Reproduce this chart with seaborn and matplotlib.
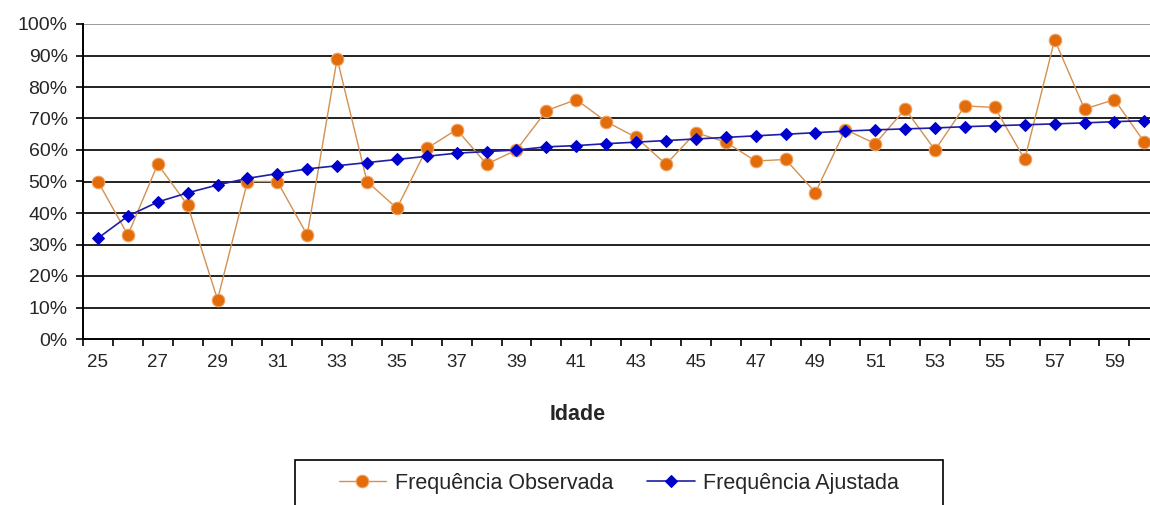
import numpy as np
import pandas as pd
import matplotlib
matplotlib.use('Agg')
import matplotlib.pyplot as plt
import seaborn as sns
from matplotlib.patches import Rectangle
from matplotlib.ticker import PercentFormatter, MultipleLocator, FixedLocator

# values (fractions)
ages = list(range(25, 61))
observed = [50, 33, 55.5, 42.5, 12.5, 50, 50, 33, 89, 50, 41.5, 60.5, 66.5, 55.5, 60,
            72.5, 76, 69, 64, 55.5, 65.5, 62.5, 56.5, 57, 46.5, 66.5, 62, 73, 60, 74,
            73.5, 57, 95, 73, 76, 62.5]
fitted = [32, 39, 43.5, 46.4, 48.9, 51, 52.5, 54, 55, 56, 57, 58, 59, 59.5, 60,
          61, 61.4, 62, 62.5, 63, 63.5, 64, 64.5, 65, 65.5, 66, 66.4, 66.7, 67, 67.4,
          67.7, 68, 68.3, 68.6, 69, 69.3]
label_obs = 'Frequência Observada'
label_fit = 'Frequência Ajustada'
xlabel = 'Idade'

df = pd.DataFrame({'Idade': ages,
                   'obs': np.array(observed) / 100,
                   'fit': np.array(fitted) / 100})

sns.set_style('white')
plt.rcParams['font.family'] = ['Liberation Sans', 'DejaVu Sans']

W, H = 1150, 505
fig = plt.figure(figsize=(W / 100, H / 100), dpi=100)
ax = fig.add_axes([83 / W, (H - 339) / H, 1 - 83 / W, (339 - 24) / H])

# gridlines
for v in np.arange(0.1, 0.95, 0.1):
    ax.axhline(v, color='#222222', lw=1.4, zorder=0)
ax.axhline(1.0, color='#9a9a9a', lw=1.4, zorder=0)

sns.lineplot(data=df, x='Idade', y='obs', ax=ax, color='#D39050', lw=1.0,
             marker='o', markersize=9, markerfacecolor='#E36C0A',
             markeredgecolor='#F0A060', markeredgewidth=0.8, label=label_obs)
sns.lineplot(data=df, x='Idade', y='fit', ax=ax, color='#1E1EA8', lw=1.2,
             marker='D', markersize=6.5, markerfacecolor='#0000CC',
             markeredgecolor='#0000CC', label=label_fit)

ax.set_xlim(24.5, 60.19)
ax.set_ylim(0, 1.0)
ax.yaxis.set_major_locator(MultipleLocator(0.1))
ax.yaxis.set_major_formatter(PercentFormatter(xmax=1, decimals=0))
ax.xaxis.set_major_locator(FixedLocator(ages[::2]))
ax.xaxis.set_minor_locator(FixedLocator(np.arange(24.5, 61, 1)))
ax.tick_params(axis='x', which='major', length=0, pad=11, labelsize=13.5)
ax.tick_params(axis='x', which='minor', length=5, width=1.2, color='black', direction='out', bottom=True)
ax.tick_params(axis='y', length=5, width=1.2, color='black', direction='out', pad=6,
               labelsize=14, left=True)
ax.set_xlabel('')
ax.set_ylabel('')

for s in ['top', 'right']:
    ax.spines[s].set_visible(False)
for s in ['left', 'bottom']:
    ax.spines[s].set_color('black')
    ax.spines[s].set_linewidth(1.4)

fig.text(578 / W, 1 - 414 / H, xlabel, ha='center', va='center',
         fontsize=15.5, fontweight='bold')

# legend: entries without frame, box drawn separately (it runs off the bottom edge)
ax.get_legend().remove()
handles, labels = ax.get_legend_handles_labels()
leg = fig.legend(handles, labels, loc='center', ncol=2,
                 bbox_to_anchor=(619 / W, 1 - 483 / H),
                 frameon=False, fontsize=15.5,
                 handlelength=2.2, handletextpad=0.4, columnspacing=1.6)
fig.patches.append(Rectangle((295 / W, -0.05), (943 - 295) / W, (H - 460) / H + 0.05,
                             transform=fig.transFigure, fill=False,
                             edgecolor='black', lw=1.2))

fig.savefig('out.png', dpi=100)
